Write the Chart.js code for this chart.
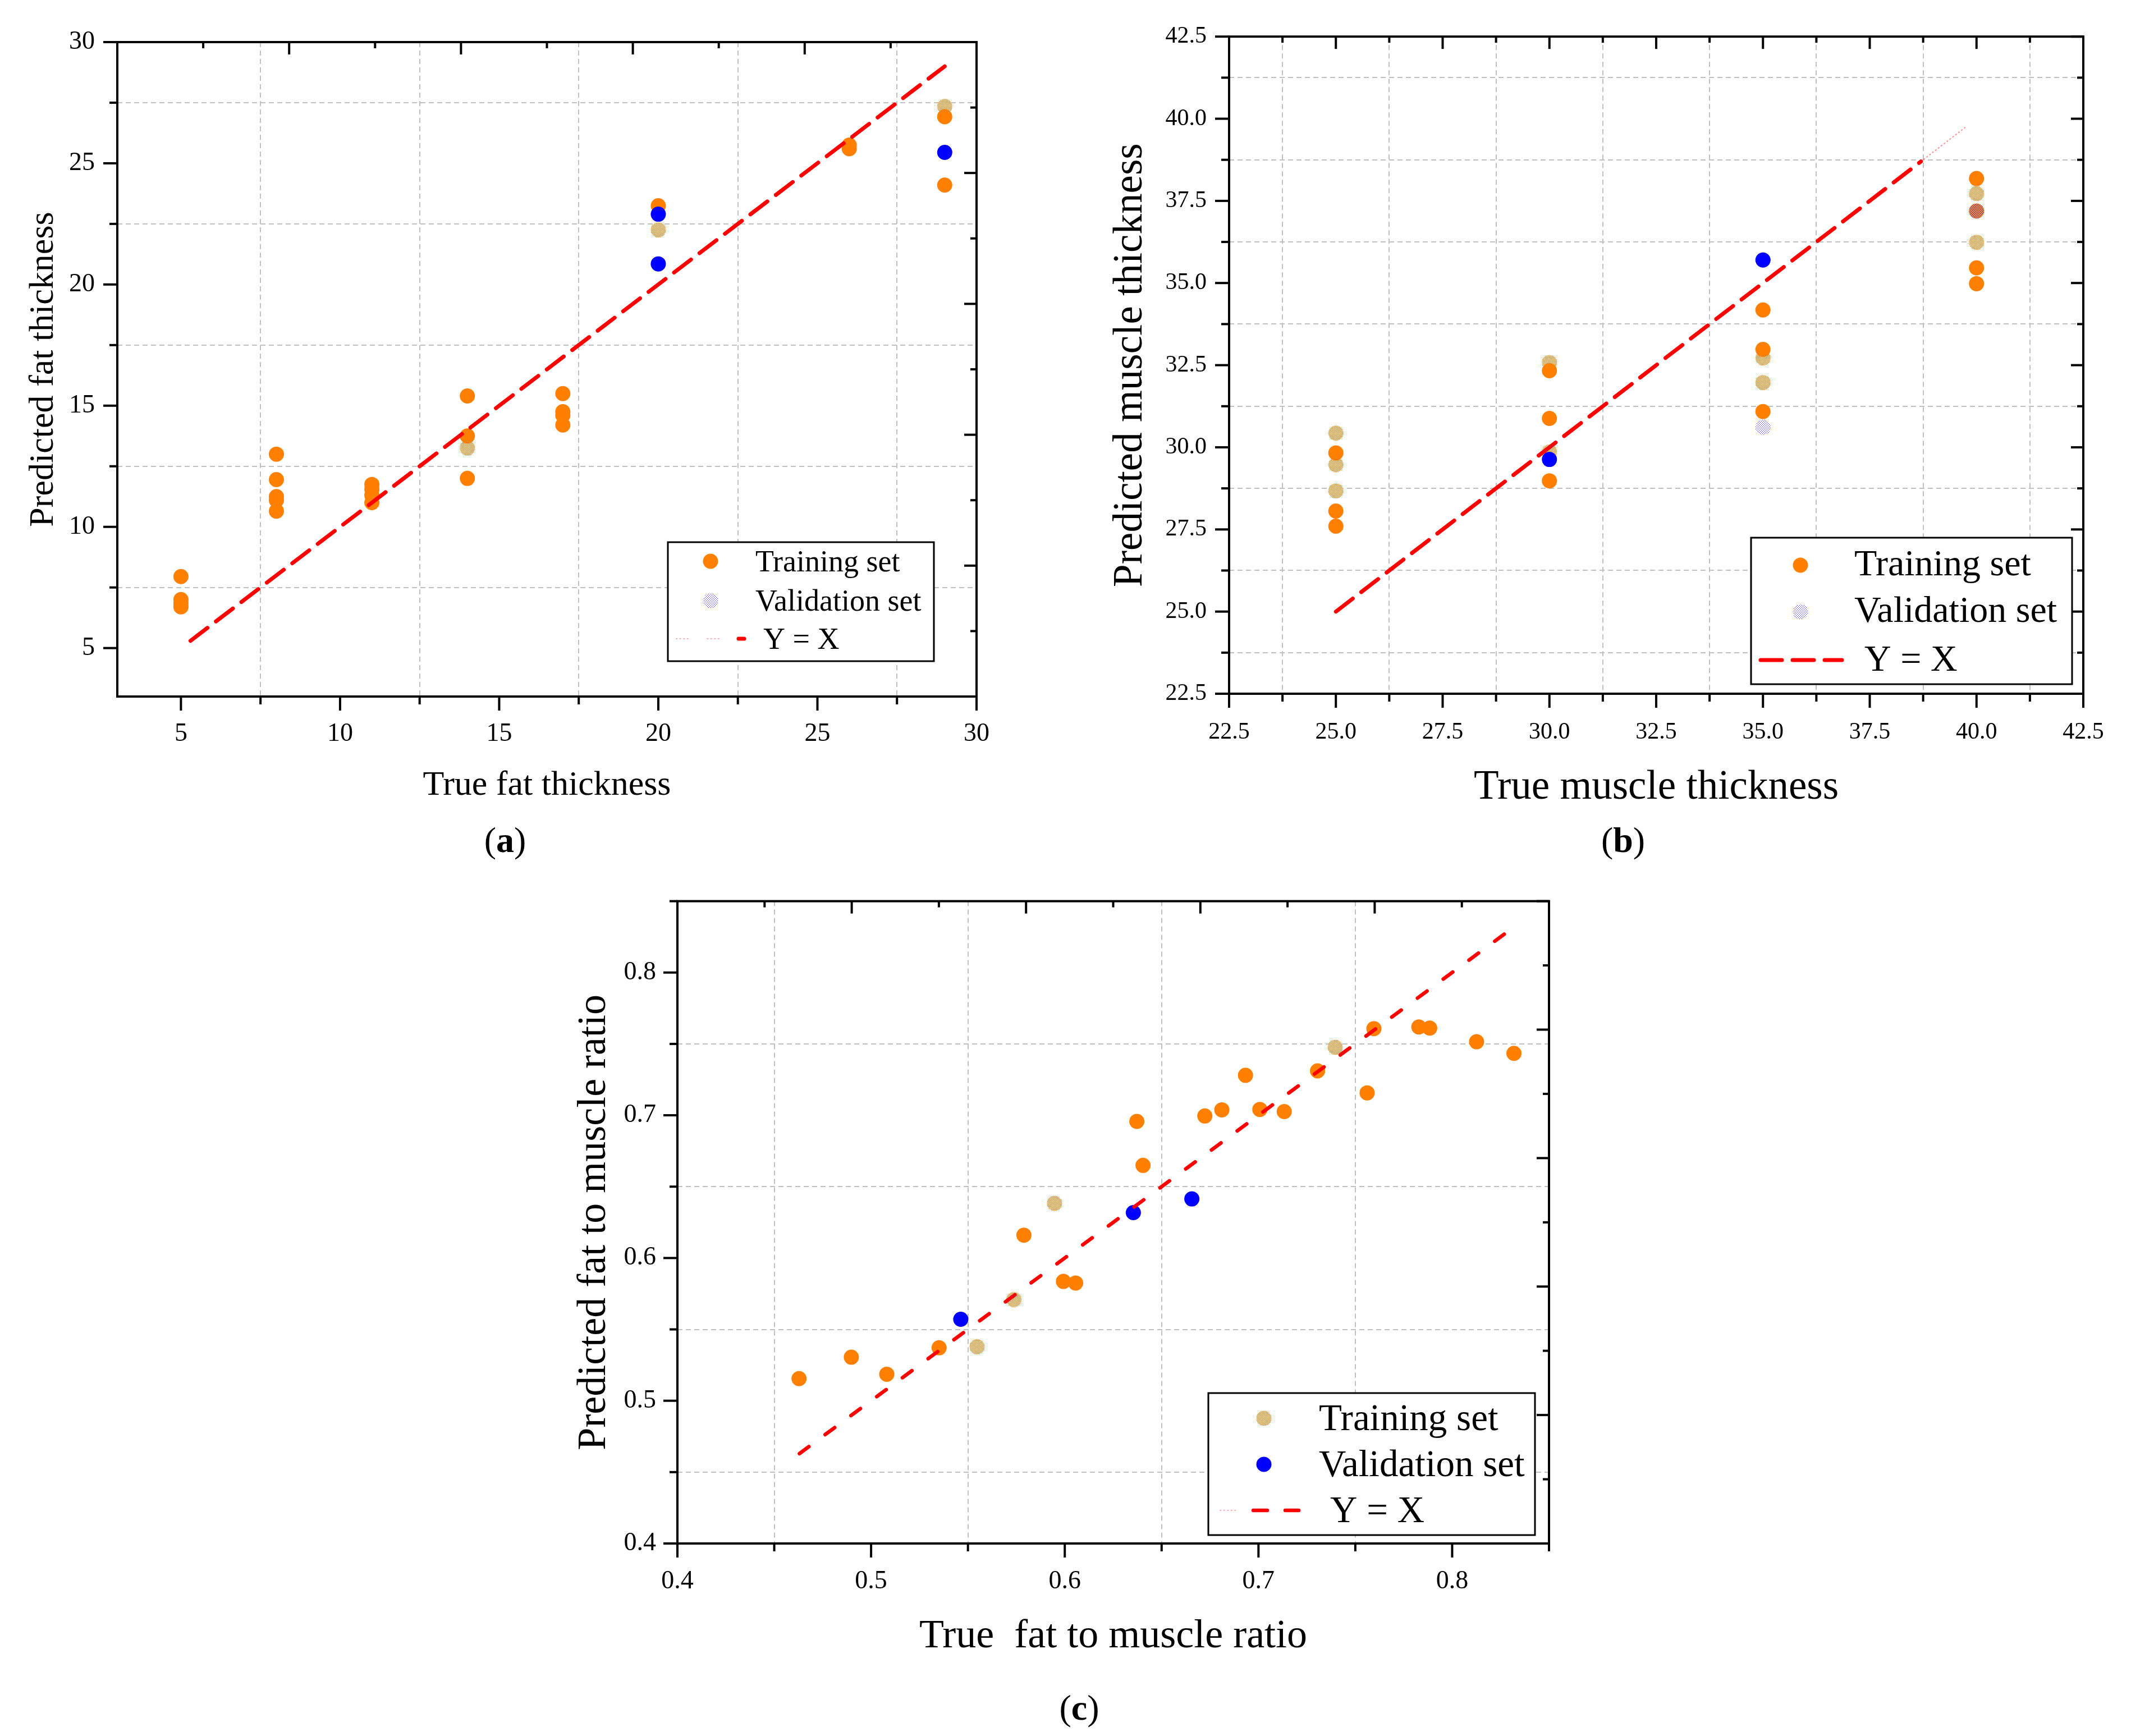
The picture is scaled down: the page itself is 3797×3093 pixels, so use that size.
<!DOCTYPE html>
<html>
<head>
<meta charset="utf-8">
<script src="https://cdn.jsdelivr.net/npm/chart.js@4.4.1/dist/chart.umd.min.js"></script>
<style>
  html, body { margin: 0; padding: 0; background: #fff; }
  body { width: 3797px; height: 3093px; position: relative; overflow: hidden;
         font-family: "Liberation Serif", "Times New Roman", serif; }
  .panel { position: absolute; }
  .panel canvas { display: block; }
  .tag { position: absolute; font-size: 64px; line-height: 1; transform: translate(-50%, -50%); }
</style>
</head>
<body>
<div class="panel" style="left:0px;top:0px"><canvas id="chartA" width="1870" height="1460"></canvas></div>
<div class="panel" style="left:1900px;top:0px"><canvas id="chartB" width="1897" height="1460"></canvas></div>
<div class="panel" style="left:950px;top:1540px"><canvas id="chartC" width="1950" height="1460"></canvas></div>
<div class="tag" style="left:900px;top:1497px">(<b>a</b>)</div>
<div class="tag" style="left:2892px;top:1497px">(<b>b</b>)</div>
<div class="tag" style="left:1923px;top:3043px">(<b>c</b>)</div>

<script>
// ---- panel (a): fat thickness ----
const fatTicks = [5, 7.5, 10, 12.5, 15, 17.5, 20, 22.5, 25, 27.5, 30];
const fatTrainX = [5, 5, 5, 5, 8, 8, 8, 8, 8, 11, 11, 11, 11, 14, 14, 14, 17, 17, 17, 17, 20, 26, 26, 29, 29];
const fatTrainY = [7.95, 7.0, 6.85, 6.7, 13.0, 11.95, 11.25, 11.1, 10.65, 11.75, 11.55, 11.3, 11.0,
                   15.4, 13.75, 12.0, 15.5, 14.75, 14.6, 14.2, 23.25, 25.75, 25.6, 26.92, 24.1];
const fatTrainLightX = [14, 20, 29];
const fatTrainLightY = [13.25, 22.25, 27.34];
const fatValidX = [20, 20, 29];
const fatValidY = [22.9, 20.85, 25.45];
const fatLine = [5.3, 29];

// ---- panel (b): muscle thickness ----
const muscleTicks = [22.5, 23.75, 25, 26.25, 27.5, 28.75, 30, 31.25, 32.5, 33.75, 35, 36.25, 37.5, 38.75, 40, 41.25, 42.5];
const musTrainX = [25, 25, 25, 30, 30, 30, 35, 35, 35, 40, 40, 40];
const musTrainY = [29.83, 28.06, 27.6, 32.33, 30.88, 28.98, 34.18, 32.98, 31.09, 38.18, 35.46, 34.98];
const musTrainLightX = [25, 25, 25, 30, 30, 35, 35, 40, 40];
const musTrainLightY = [30.43, 29.47, 28.67, 32.58, 29.86, 32.72, 31.97, 37.72, 36.24];
const musTrainDarkX = [40];
const musTrainDarkY = [37.19];
const musValidX = [30, 35];
const musValidY = [29.63, 35.7];
const musValidLightX = [35];
const musValidLightY = [30.61];
const musLine = [25, 38.7];
const musTail = [38.7, 39.75];

// ---- panel (c): fat to muscle ratio ----
const ratioTicks = [0.4, 0.45, 0.5, 0.55, 0.6, 0.65, 0.7, 0.75, 0.8, 0.85];
const ratioTicksSide = [0.4, 0.45, 0.5, 0.55, 0.6, 0.65, 0.7, 0.75, 0.8, 0.85, 0.9];
const ratioTrainX = [0.4628, 0.4898, 0.5081, 0.5351, 0.5789, 0.5993, 0.6056, 0.6372, 0.6404, 0.6723, 0.6811,
                     0.6933, 0.7007, 0.7133, 0.7305, 0.7561, 0.7596, 0.7828, 0.7884, 0.8126, 0.8319];
const ratioTrainY = [0.5155, 0.5305, 0.5186, 0.5371, 0.616, 0.5836, 0.5825, 0.6957, 0.6649, 0.6995, 0.7038,
                     0.728, 0.7041, 0.7026, 0.7311, 0.7157, 0.7607, 0.7619, 0.7611, 0.7515, 0.7434];
const ratioTrainLightX = [0.5547, 0.5737, 0.5947, 0.7396];
const ratioTrainLightY = [0.5378, 0.5709, 0.6383, 0.7476];
const ratioValidX = [0.5463, 0.6354, 0.6656];
const ratioValidY = [0.5571, 0.6318, 0.6414];
const ratioLine = [0.463, 0.828];

const FONT = '"Liberation Serif", "Times New Roman", Times, serif';
const ORANGE = '#ff8000';
const BLUE = '#0000ff';
const RED = '#ff0000';
const FAINT = { color: 'rgba(255,0,0,0.45)', width: 1.5, dash: [1.5, 5] };

function isMajor(v, step) {
  const r = v / step;
  return Math.abs(r - Math.round(r)) < 1e-6;
}

// Origin-style hatched fills
function tiles(ctx) {
  const make = (size, base, dot, spots) => {
    const c = document.createElement('canvas');
    c.width = size; c.height = size;
    const g = c.getContext('2d');
    g.fillStyle = base; g.fillRect(0, 0, size, size);
    g.fillStyle = dot;
    spots.forEach(([x, y]) => g.fillRect(x, y, 1, 1));
    return ctx.createPattern(c, 'repeat');
  };
  return {
    orange: ORANGE,
    blue: BLUE,
    orangeLight: make(2, '#ffffff', ORANGE, [[0, 0], [1, 1]]),
    blueLight: make(4, '#ffffff', BLUE, [[0, 0], [2, 2]]),
    orangeDark: make(4, ORANGE, BLUE, [[0, 0], [2, 2]])
  };
}

function pts(xs, ys) { return xs.map((x, i) => ({ x: x, y: ys[i] })); }

function dots(label, xs, ys, fill) {
  return { type: 'scatter', label: label, data: pts(xs, ys), pointRadius: 13.5, pointHoverRadius: 13.5,
           pointBackgroundColor: fill, pointBorderWidth: 0, borderWidth: 0, showLine: false };
}

function diag(ends, dash, color, width) {
  return { type: 'line', label: 'Y = X', data: ends.map(v => ({ x: v, y: v })), borderColor: color,
           borderWidth: width, borderDash: dash, borderCapStyle: 'round', pointRadius: 0, fill: false, tension: 0 };
}

// frame + Origin style tick marks (out on bottom/left, in on top/right)
function makeFrame(major) {
  return {
    id: 'frameTicks',
    afterDatasetsDraw(chart) {
      const ctx = chart.ctx;
      const { left, right, top, bottom } = chart.chartArea;
      ctx.save();
      ctx.strokeStyle = '#000';
      ctx.lineWidth = 4;
      ['x', 'y', 'x2', 'y2'].forEach(id => {
        const s = chart.scales[id];
        s.ticks.forEach(t => {
          const p = s.getPixelForValue(t.value);
          const big = isMajor(t.value, major);
          const outLen = big ? 25 : 14;
          const inLen = big ? 22 : 11;
          ctx.beginPath();
          if (id === 'x') { ctx.moveTo(p, bottom); ctx.lineTo(p, bottom + outLen); }
          if (id === 'y') { ctx.moveTo(left, p); ctx.lineTo(left - outLen, p); }
          if (id === 'x2') { ctx.moveTo(p, top); ctx.lineTo(p, top + inLen); }
          if (id === 'y2') { ctx.moveTo(right, p); ctx.lineTo(right - inLen, p); }
          ctx.stroke();
        });
      });
      ctx.strokeRect(left, top, right - left, bottom - top);
      ctx.restore();
    }
  };
}

// legend in a box, labels and colours taken from the datasets
function makeLegend(cfg, fills) {
  return {
    id: 'boxLegend',
    afterDraw(chart) {
      const ctx = chart.ctx;
      const [x0, y0, x1, y1] = cfg.box;
      ctx.save();
      ctx.fillStyle = '#fff';
      ctx.fillRect(x0, y0, x1 - x0, y1 - y0);
      ctx.lineWidth = 3;
      ctx.strokeStyle = '#000';
      ctx.strokeRect(x0, y0, x1 - x0, y1 - y0);
      cfg.items.forEach(it => {
        const ds = chart.data.datasets[it.ds];
        if (it.sx !== undefined) {
          ctx.beginPath();
          ctx.fillStyle = it.swatch ? fills[it.swatch] : ds.pointBackgroundColor;
          ctx.arc(it.sx, it.sy, 13.5, 0, Math.PI * 2);
          ctx.fill();
        }
        (it.parts || []).forEach(pt => {
          ctx.beginPath();
          ctx.strokeStyle = pt.color || ds.borderColor;
          ctx.lineWidth = pt.width || ds.borderWidth;
          ctx.lineCap = 'round';
          ctx.setLineDash(pt.dash || []);
          ctx.moveTo(pt.x0, it.sy);
          ctx.lineTo(pt.x1, it.sy);
          ctx.stroke();
          ctx.setLineDash([]);
        });
        ctx.fillStyle = '#000';
        ctx.font = cfg.size + 'px ' + FONT;
        ctx.textAlign = 'left';
        ctx.textBaseline = 'middle';
        ctx.fillText(ds.label, it.tx, it.ty);
      });
      ctx.restore();
    }
  };
}

function buildPanel(p) {
  const canvas = document.getElementById(p.canvas);
  const ctx = canvas.getContext('2d');
  const f = tiles(ctx);
  const W = canvas.width, H = canvas.height;
  const tickFont = { family: FONT, size: p.tickSize };
  const titleFont = { family: FONT, size: p.titleSize };
  const gridColor = c => (c.tick && !isMajor(c.tick.value, p.major) ? '#c0c0c0' : 'rgba(0,0,0,0)');

  const mainAxis = (pos, title) => ({
    type: 'linear', position: pos, min: p.min, max: p.max,
    afterBuildTicks: s => { s.ticks = p.ticks.map(v => ({ value: v })); },
    afterFit: s => {
      if (pos === 'left') s.width = p.area.left;
      else s.height = H - p.area.bottom;
    },
    grid: { color: gridColor, lineWidth: 2, drawTicks: false },
    border: { display: false, dash: [9, 6] },
    ticks: {
      font: tickFont, color: '#000', autoSkip: false, maxRotation: 0, minRotation: 0,
      padding: pos === 'left' ? p.padLeft : p.padBottom,
      callback: v => (isMajor(v, p.major) ? p.fmt(v) : '')
    },
    title: {
      display: true, text: title, font: titleFont, color: '#000',
      padding: pos === 'left' ? { top: p.yTitlePad, bottom: 0 } : { top: 0, bottom: p.xTitlePad }
    }
  });
  const sideAxis = pos => ({
    type: 'linear', position: pos, min: p.min2, max: p.max2,
    afterBuildTicks: s => { s.ticks = p.ticks2.map(v => ({ value: v })); },
    afterFit: s => {
      if (pos === 'right') s.width = W - p.area.right;
      else s.height = p.area.top;
    },
    grid: { display: false, drawTicks: false },
    border: { display: false },
    ticks: { display: false }
  });

  new Chart(ctx, {
    type: 'scatter',
    data: { datasets: p.datasets(f) },
    options: {
      responsive: false,
      devicePixelRatio: 1,
      animation: false,
      events: [],
      layout: { padding: 0 },
      scales: {
        x: mainAxis('bottom', p.xTitle),
        y: mainAxis('left', p.yTitle),
        x2: sideAxis('top'),
        y2: sideAxis('right')
      },
      plugins: {
        legend: { display: false },
        tooltip: { enabled: false }
      }
    },
    plugins: [makeFrame(p.major), makeLegend(p.legend, f)]
  });
}

function drawAll() {
  buildPanel({
    canvas: 'chartA',
    area: { left: 209, top: 75, right: 1740, bottom: 1241 },
    min: 3, max: 30, ticks: fatTicks, major: 5, fmt: v => String(v),
    min2: 5, max2: 30, ticks2: fatTicks,
    xTitle: 'True fat thickness', yTitle: 'Predicted fat thickness',
    tickSize: 46, titleSize: 62, padLeft: 40, padBottom: 39, xTitlePad: 23, yTitlePad: 41,
    datasets: f => [
      diag(fatLine, [38, 19], RED, 7),
      dots('Validation set', fatValidX, fatValidY, f.blue),
      dots('Training set', fatTrainX, fatTrainY, f.orange),
      dots('Training set', fatTrainLightX, fatTrainLightY, f.orangeLight)
    ],
    legend: {
      box: [1190, 966, 1664, 1178], size: 54,
      items: [
        { ds: 2, sx: 1266, sy: 1000, tx: 1346, ty: 1004 },
        { ds: 1, swatch: 'blueLight', sx: 1266, sy: 1070, tx: 1346, ty: 1074 },
        { ds: 0, sy: 1138, tx: 1360, ty: 1142, parts: [
          Object.assign({ x0: 1205, x1: 1230 }, FAINT),
          Object.assign({ x0: 1260, x1: 1285 }, FAINT),
          { x0: 1316, x1: 1326 }
        ] }
      ]
    }
  });

  buildPanel({
    canvas: 'chartB',
    area: { left: 290, top: 60, right: 1812, bottom: 1236 },
    min: 22.5, max: 42.5, ticks: muscleTicks, major: 2.5, fmt: v => v.toFixed(1),
    min2: 22.5, max2: 42.5, ticks2: muscleTicks,
    xTitle: 'True muscle thickness', yTitle: 'Predicted muscle thickness',
    tickSize: 42, titleSize: 73, padLeft: 40, padBottom: 44, xTitlePad: 12, yTitlePad: 71,
    datasets: f => [
      diag(musLine, [38, 19], RED, 7),
      diag(musTail, FAINT.dash, FAINT.color, 2),
      dots('Validation set', musValidX, musValidY, f.blue),
      dots('Validation set', musValidLightX, musValidLightY, f.blueLight),
      dots('Training set', musTrainX, musTrainY, f.orange),
      dots('Training set', musTrainDarkX, musTrainDarkY, f.orangeDark),
      dots('Training set', musTrainLightX, musTrainLightY, f.orangeLight)
    ],
    legend: {
      box: [1220, 958, 1792, 1219], size: 66,
      items: [
        { ds: 4, sx: 1308, sy: 1007, tx: 1404, ty: 1008 },
        { ds: 3, sx: 1308, sy: 1090, tx: 1404, ty: 1091 },
        { ds: 0, sy: 1176, tx: 1422, ty: 1178, parts: [
          { x0: 1237, x1: 1382, dash: [38, 19] }
        ] }
      ]
    }
  });

  buildPanel({
    canvas: 'chartC',
    area: { left: 257, top: 58, right: 1810, bottom: 1210 },
    min: 0.4, max: 0.85, ticks: ratioTicks, major: 0.1, fmt: v => v.toFixed(1),
    min2: 0.4, max2: 0.9, ticks2: ratioTicksSide,
    xTitle: 'True  fat to muscle ratio', yTitle: 'Predicted fat to muscle ratio',
    tickSize: 46, titleSize: 72, padLeft: 38, padBottom: 40, xTitlePad: 41, yTitlePad: 66,
    datasets: f => [
      diag(ratioLine, [21, 36], RED, 6.5),
      dots('Validation set', ratioValidX, ratioValidY, f.blue),
      dots('Training set', ratioTrainX, ratioTrainY, f.orange),
      dots('Training set', ratioTrainLightX, ratioTrainLightY, f.orangeLight)
    ],
    legend: {
      box: [1203, 942, 1785, 1195], size: 67,
      items: [
        { ds: 3, sx: 1302, sy: 987, tx: 1400, ty: 990 },
        { ds: 1, sx: 1302, sy: 1069, tx: 1400, ty: 1072 },
        { ds: 0, sy: 1151, tx: 1420, ty: 1154, parts: [
          Object.assign({ x0: 1224, x1: 1255 }, FAINT),
          { x0: 1283, x1: 1308 },
          { x0: 1340, x1: 1364 }
        ] }
      ]
    }
  });
}

document.fonts.load('44px "Liberation Serif"').then(drawAll, drawAll);
</script>
</body>
</html>
